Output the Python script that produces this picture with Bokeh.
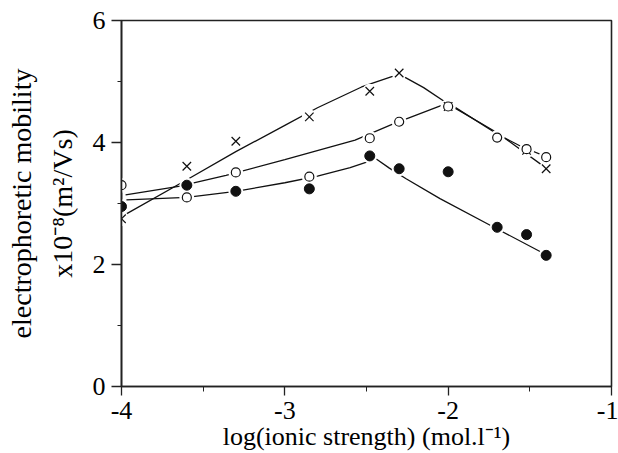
from bokeh.plotting import figure
from bokeh.models import Range1d, FixedTicker
from bokeh.embed import file_html
from bokeh.resources import INLINE

# ---- axis ticks ----
x_ticks = [-4, -3, -2, -1]
x_tick_labels = ["-4", "-3", "-2", "-1"]
x_minor = [-3.5, -2.5, -1.5]
y_ticks = [0, 2, 4, 6]
y_tick_labels = ["0", "2", "4", "6"]
y_minor = [1, 3, 5]

# ---- measured points ----
cross_x = [-4.0, -3.6, -3.3, -2.85, -2.48, -2.3, -2.0, -1.52, -1.4]
cross_y = [2.75, 3.61, 4.02, 4.42, 4.84, 5.14, 4.59, 3.87, 3.57]

open_x = [-4.0, -3.6, -3.3, -2.85, -2.48, -2.3, -2.0, -1.7, -1.52, -1.4]
open_y = [3.30, 3.10, 3.51, 3.44, 4.07, 4.34, 4.59, 4.08, 3.89, 3.76]

filled_x = [-4.0, -3.6, -3.3, -2.85, -2.48, -2.3, -2.0, -1.7, -1.52, -1.4]
filled_y = [2.95, 3.30, 3.20, 3.24, 3.78, 3.57, 3.52, 2.61, 2.49, 2.15]

# ---- fitted curves ----
cross_fit_x = [-3.97, -3.6, -3.3, -3.0, -2.8, -2.53, -2.3, -2.15, -2.0, -1.7, -1.4]
cross_fit_y = [2.83, 3.39, 3.85, 4.28, 4.57, 4.91, 5.12, 4.90, 4.63, 4.16, 3.58]

open_fit_x = [-3.975, -3.65, -3.36, -3.0, -2.57, -2.34, -2.0, -1.7, -1.55, -1.4]
open_fit_y = [3.14, 3.28, 3.46, 3.72, 4.04, 4.30, 4.65, 4.14, 3.93, 3.77]

filled_fit_x = [-3.97, -3.6, -3.3, -3.0, -2.8, -2.6, -2.44, -2.36, -2.26, -2.05, -1.74, -1.4]
filled_fit_y = [3.06, 3.10, 3.20, 3.34, 3.45, 3.59, 3.73, 3.58, 3.41, 3.08, 2.64, 2.16]

x_title = "log(ionic strength) (mol.l\u207b\u00b9)"
y_title = "electrophoretic mobility\nx10\u207b\u2078(m\u00b2/Vs)"

FONT = "Liberation Serif"

p = figure(width=618, height=453, x_range=Range1d(-4, -1), y_range=Range1d(0, 6),
           output_backend="svg", toolbar_location=None,
           min_border_left=121, min_border_right=7, min_border_top=20, min_border_bottom=67)

p.xgrid.visible = False
p.ygrid.visible = False
p.background_fill_color = "white"
p.border_fill_color = "white"
p.outline_line_color = "#222222"
p.outline_line_width = 1.6

p.xaxis.ticker = FixedTicker(ticks=x_ticks, minor_ticks=x_minor)
p.yaxis.ticker = FixedTicker(ticks=y_ticks, minor_ticks=y_minor)
p.xaxis.major_label_overrides = {t: s for t, s in zip(x_ticks, x_tick_labels)}
p.yaxis.major_label_overrides = {t: s for t, s in zip(y_ticks, y_tick_labels)}

for ax in (p.xaxis, p.yaxis):
    ax.axis_line_color = "#222222"
    ax.axis_line_width = 1.6
    ax.major_tick_line_color = "#222222"
    ax.minor_tick_line_color = "#222222"
    ax.major_tick_line_width = 1.3
    ax.minor_tick_line_width = 1.0
    ax.major_tick_in = 0
    ax.minor_tick_in = 0
    ax.major_label_text_font = FONT
    ax.major_label_text_font_size = "26px"
    ax.major_label_text_color = "black"
    ax.axis_label_text_font = FONT
    ax.axis_label_text_font_style = "normal"
    ax.axis_label_text_color = "black"

p.xaxis.major_tick_out = 9
p.xaxis.minor_tick_out = 5
p.xaxis.major_label_standoff = 6
p.xaxis.axis_label = x_title
p.xaxis.axis_label_text_font_size = "26px"
p.xaxis.axis_label_standoff = 0

p.yaxis.major_tick_out = 10
p.yaxis.minor_tick_out = 4
p.yaxis.major_label_standoff = 6
p.yaxis.axis_label = y_title
p.yaxis.axis_label_text_font_size = "28px"
p.yaxis.axis_label_standoff = 12
p.yaxis.axis_label_text_line_height = 1.3

# curves
for fx, fy in ((cross_fit_x, cross_fit_y), (open_fit_x, open_fit_y), (filled_fit_x, filled_fit_y)):
    p.line(fx, fy, line_color="#111111", line_width=1.3)

# white halos around markers (gaps in the curves)
p.scatter(cross_x + open_x + filled_x, cross_y + open_y + filled_y,
          marker="circle", size=15, fill_color="white", line_color=None)

# markers
p.scatter(cross_x, cross_y, marker="x", size=12, line_color="#111111", line_width=1.2)
p.scatter(open_x, open_y, marker="circle", size=9, fill_color="white",
          line_color="#111111", line_width=1.2)
p.scatter(filled_x, filled_y, marker="circle", size=10, fill_color="#111111",
          line_color="#111111", line_width=1.0)

open("out.html", "w").write(file_html(p, INLINE))
